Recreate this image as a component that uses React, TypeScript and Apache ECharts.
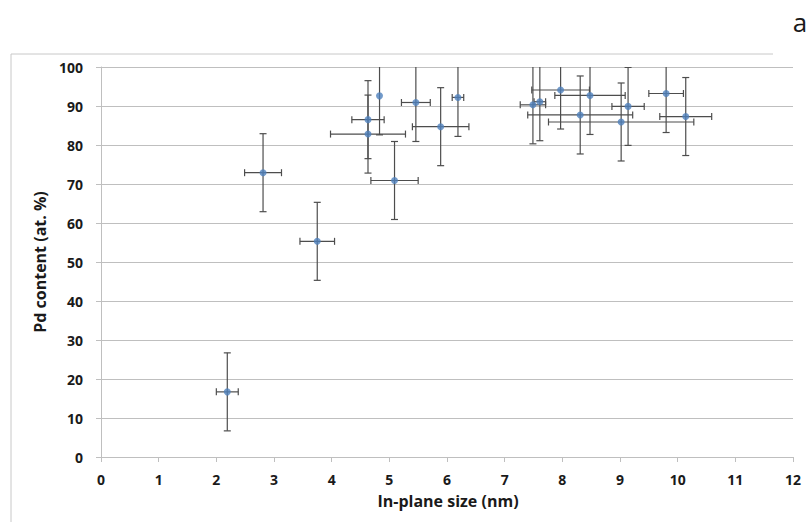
import React, { useEffect, useRef } from "react";
import * as echarts from "echarts";

const sizes = [2.19, 2.81, 3.75, 4.63, 4.63, 4.83, 5.09, 5.46, 5.89, 6.19, 7.49, 7.61, 7.97, 8.48, 8.31, 9.14, 9.02, 9.8, 10.14];
const pdContent = [16.7, 72.9, 55.3, 86.5, 82.8, 92.6, 70.9, 90.9, 84.7, 92.2, 90.3, 91.1, 94.1, 92.7, 87.7, 89.9, 85.9, 93.2, 87.3];
const sizeErr = [0.19, 0.32, 0.3, 0.28, 0.65, 0, 0.41, 0.25, 0.49, 0.1, 0.22, 0.1, 0.5, 0.61, 0.91, 0.28, 1.26, 0.3, 0.45];
const pdErr = [10, 10, 10, 10, 10, 10, 10, 10, 10, 10, 10, 10, 10, 10, 10, 10, 10, 10, 10];

const xTitle = "In-plane size (nm)";
const yTitle = "Pd content (at. %)";
const panelLabel = "a";

const FONT = "'Open Sans', 'Noto Sans', sans-serif";

export default function App() {
  const ref = useRef<HTMLDivElement>(null);
  useEffect(() => {
    if (!ref.current) return;
    const chart = echarts.init(ref.current, undefined, { renderer: "svg" });
    const points = sizes.map((x, i) => [x, pdContent[i]]);
    const errData = sizes.map((x, i) => [x, pdContent[i], sizeErr[i], pdErr[i]]);
    const errColor = "#4d4d4d";
    chart.setOption({
      animation: false,
      backgroundColor: "#ffffff",
      grid: { left: 101, right: 19, top: 67, bottom: 65 },
      xAxis: {
        type: "value",
        min: 0,
        max: 12,
        interval: 1,
        axisLine: { show: true, lineStyle: { color: "#bfbfbf", width: 1 } },
        axisTick: { show: true, length: 5, lineStyle: { color: "#bfbfbf" } },
        splitLine: { show: false },
        axisLabel: { color: "#1a1a1a", fontWeight: "bold", fontSize: 14, fontFamily: FONT, margin: 15 },
      },
      yAxis: {
        type: "value",
        min: 0,
        max: 100,
        interval: 10,
        axisLine: { show: true, lineStyle: { color: "#bfbfbf", width: 1 } },
        axisTick: { show: true, length: 5, lineStyle: { color: "#bfbfbf" } },
        splitLine: { show: true, lineStyle: { color: "#bfbfbf", width: 1 } },
        axisLabel: { color: "#1a1a1a", fontWeight: "bold", fontSize: 14, fontFamily: FONT, margin: 18 },
      },
      graphic: [
        { type: "line", shape: { x1: 11, y1: 54, x2: 773, y2: 54 }, style: { stroke: "#c8c8c8", lineWidth: 1 }, silent: true },
        { type: "line", shape: { x1: 11, y1: 54, x2: 11, y2: 522 }, style: { stroke: "#c8c8c8", lineWidth: 1 }, silent: true },
        {
          type: "text",
          x: 448,
          y: 501,
          style: { text: xTitle, fill: "#1a1a1a", font: `bold 16px ${FONT}`, textAlign: "center", textVerticalAlign: "middle" },
        },
        {
          type: "text",
          x: 40,
          y: 262,
          rotation: Math.PI / 2,
          style: { text: yTitle, fill: "#1a1a1a", font: `bold 16px ${FONT}`, textAlign: "center", textVerticalAlign: "middle" },
        },
        {
          type: "text",
          x: 800,
          y: 22,
          style: { text: panelLabel, fill: "#1a1a1a", font: `26px ${FONT}`, textAlign: "center", textVerticalAlign: "middle" },
        },
      ],
      series: [
        {
          type: "custom",
          clip: true,
          data: errData,
          z: 1,
          renderItem: (params: any, api: any) => {
            const x = api.value(0);
            const y = api.value(1);
            const ex = api.value(2);
            const ey = api.value(3);
            const c = api.coord([x, y]);
            const top = api.coord([x, y + ey]);
            const bot = api.coord([x, y - ey]);
            const left = api.coord([x - ex, y]);
            const right = api.coord([x + ex, y]);
            const cap = 3.5;
            const st = { stroke: errColor, lineWidth: 1.2 };
            const children: any[] = [
              { type: "line", shape: { x1: c[0], y1: top[1], x2: c[0], y2: bot[1] }, style: st },
              { type: "line", shape: { x1: c[0] - cap, y1: top[1], x2: c[0] + cap, y2: top[1] }, style: st },
              { type: "line", shape: { x1: c[0] - cap, y1: bot[1], x2: c[0] + cap, y2: bot[1] }, style: st },
            ];
            if (ex > 0) {
              children.push(
                { type: "line", shape: { x1: left[0], y1: c[1], x2: right[0], y2: c[1] }, style: st },
                { type: "line", shape: { x1: left[0], y1: c[1] - cap, x2: left[0], y2: c[1] + cap }, style: st },
                { type: "line", shape: { x1: right[0], y1: c[1] - cap, x2: right[0], y2: c[1] + cap }, style: st }
              );
            }
            return { type: "group", children };
          },
        },
        {
          type: "scatter",
          data: points,
          symbol: "circle",
          symbolSize: 7,
          z: 3,
          itemStyle: { color: "#4f81bd" },
        },
      ],
    });
    return () => chart.dispose();
  }, []);
  return <div ref={ref} style={{ position: "fixed", left: 0, top: 0, width: 812, height: 522 }} />;
}
